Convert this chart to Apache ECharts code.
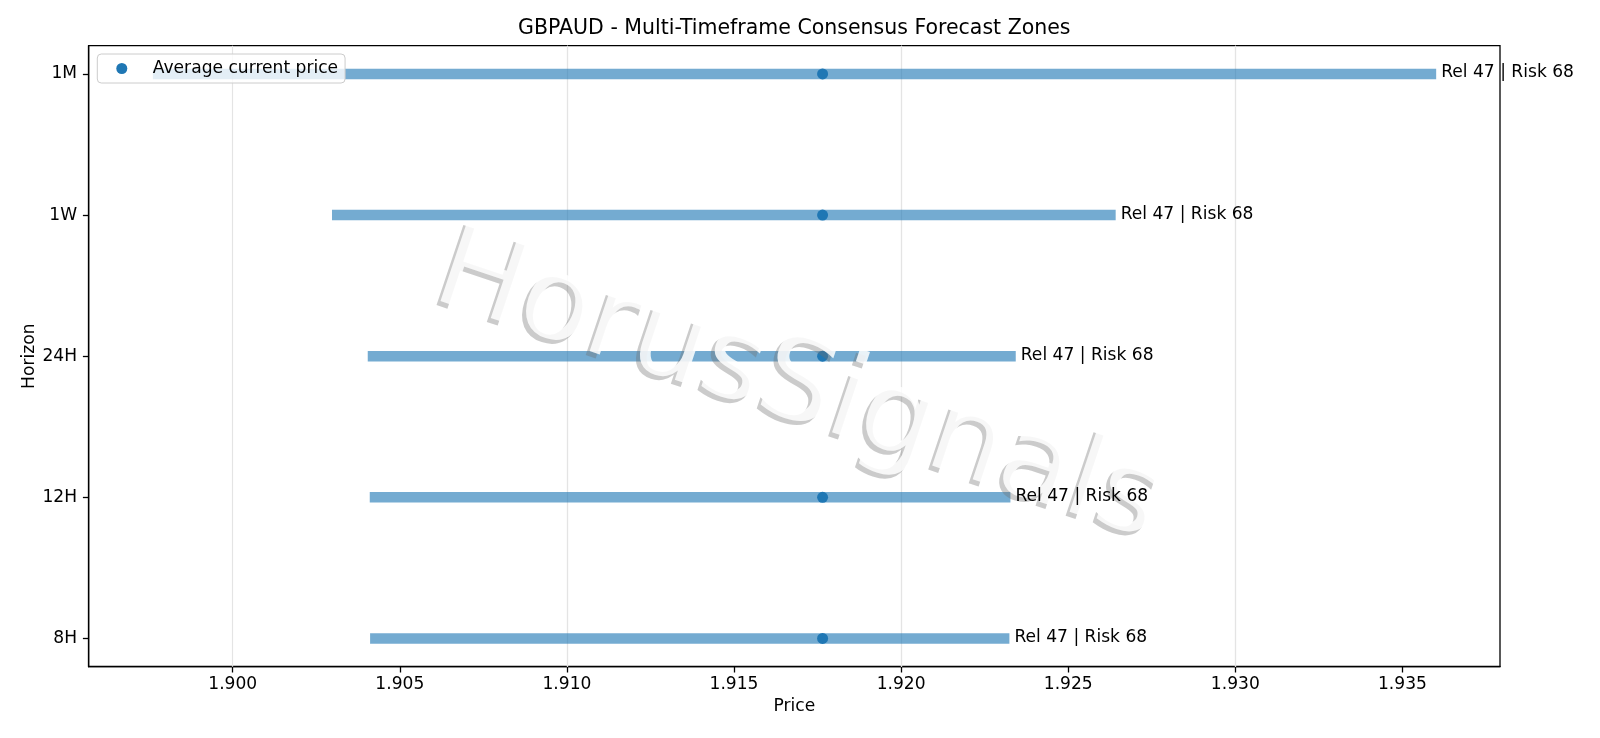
<!DOCTYPE html>
<html>
<head>
<meta charset="utf-8">
<script src="https://cdn.jsdelivr.net/npm/echarts@6/dist/echarts.min.js"></script>
<style>
html,body{margin:0;padding:0;background:#fff;}
#chart{width:1600px;height:738px;}
</style>
</head>
<body>
<div id="chart"></div>
<script>
// ---- data ----
const horizons = ['1M', '1W', '24H', '12H', '8H'];
const zoneLow  = [1.89761, 1.90297, 1.90404, 1.90410, 1.90411];
const zoneHigh = [1.93601, 1.92642, 1.92343, 1.92327, 1.92324];
const avgPrice = [1.91765, 1.91765, 1.91765, 1.91765, 1.91765];
const relScore = [47, 47, 47, 47, 47];
const riskScore = [68, 68, 68, 68, 68];
const xTicks = [1.900, 1.905, 1.910, 1.915, 1.920, 1.925, 1.930, 1.935];
const yTicks = [0, 1, 2, 3, 4];
const titleText = 'GBPAUD - Multi-Timeframe Consensus Forecast Zones';
const watermarkText = 'HorusSignals';

const FONT = 'DejaVu Sans';
const FS = 17.1;

const chart = echarts.init(document.getElementById('chart'), null, {renderer: 'canvas'});

const barData = zoneLow.map((lo, i) => [lo, zoneHigh[i], i]);
const dotData = avgPrice.map((p, i) => [p, i]);
const labelData = zoneHigh.map((h, i) => [h, i]);

const rot = -18.5 * Math.PI / 180;

const option = {
  backgroundColor: '#ffffff',
  animation: false,
  textStyle: {fontFamily: FONT},
  grid: {
    left: 88.7, right: 100, top: 45.7, bottom: 71.3,
    containLabel: false, outerBoundsMode: 'none',
    show: true, borderColor: '#000', borderWidth: 1.3, backgroundColor: 'transparent'
  },
  legend: {
    show: true,
    data: [{name: 'Average current price', icon: 'circle'}],
    left: 97.3, top: 54,
    orient: 'vertical',
    itemWidth: 24, itemHeight: 11,
    padding: [6, 7, 6, 19],
    backgroundColor: 'rgba(255,255,255,0.8)',
    borderColor: '#cccccc', borderWidth: 1, borderRadius: 4,
    textStyle: {fontFamily: FONT, fontSize: FS, color: '#000', padding: [0, 0, 0, 14]},
    z: 20
  },
  xAxis: {
    type: 'value',
    min: 1.89569, max: 1.93792,
    name: 'Price', nameLocation: 'middle', nameGap: 31, nameMoveOverlap: false,
    nameTextStyle: {fontFamily: FONT, fontSize: FS, color: '#000'},
    axisLine: {show: true, onZero: false, lineStyle: {color: '#000', width: 1.3}},
    axisTick: {show: true, customValues: xTicks, length: 5.8, lineStyle: {color: '#000', width: 1.3}},
    axisLabel: {show: true, customValues: xTicks, margin: 9, fontFamily: FONT, fontSize: FS, color: '#000',
      formatter: v => Number(v).toFixed(3)},
    splitLine: {show: false}
  },
  yAxis: {
    type: 'value',
    inverse: true,
    min: -0.2, max: 4.2,
    name: 'Horizon', nameLocation: 'middle', nameGap: 51, nameMoveOverlap: false,
    nameTextStyle: {fontFamily: FONT, fontSize: FS, color: '#000'},
    axisLine: {show: true, onZero: false, lineStyle: {color: '#000', width: 1.3}},
    axisTick: {show: true, customValues: yTicks, length: 5.8, lineStyle: {color: '#000', width: 1.3}},
    axisLabel: {show: true, customValues: yTicks, margin: 11.6, fontFamily: FONT, fontSize: FS, color: '#000',
      formatter: v => horizons[Math.round(v)]},
    splitLine: {show: false}
  },
  graphic: {
    elements: [
      {
        type: 'text', x: 794.3, y: 29, z: 30, silent: true,
        style: {text: titleText, fontFamily: FONT, fontSize: 20.5, fill: '#000', align: 'center', verticalAlign: 'middle'}
      },
      {
        type: 'text', x: 794, y: 393, rotation: rot, z: 4, silent: true,
        style: {text: watermarkText, fontFamily: FONT, fontSize: 116, fill: 'rgba(110,110,110,0.36)', align: 'center', verticalAlign: 'middle'}
      },
      {
        type: 'text', x: 798, y: 389, rotation: rot, z: 5, silent: true,
        style: {text: watermarkText, fontFamily: FONT, fontSize: 116, fill: 'rgba(255,255,255,0.85)', align: 'center', verticalAlign: 'middle'}
      }
    ]
  },
  series: [
    {
      name: 'grid-lines',
      type: 'line',
      data: [],
      silent: true,
      z: 1,
      markLine: {
        silent: true, symbol: 'none', z: 1, animation: false,
        label: {show: false},
        lineStyle: {color: '#e4e4e4', width: 1.2, type: 'solid'},
        data: xTicks.map(v => ({xAxis: v}))
      }
    },
    {
      name: 'zones',
      type: 'custom',
      z: 2,
      silent: true,
      data: barData,
      encode: {x: [0, 1], y: 2},
      renderItem: function (params, api) {
        const p0 = api.coord([api.value(0), api.value(2)]);
        const p1 = api.coord([api.value(1), api.value(2)]);
        return {
          type: 'line',
          shape: {x1: p0[0], y1: p0[1], x2: p1[0], y2: p1[1]},
          style: {stroke: 'rgba(31,119,180,0.62)', lineWidth: 10.5, lineCap: 'butt'}
        };
      }
    },
    {
      name: 'Average current price',
      type: 'scatter',
      z: 3,
      data: dotData,
      symbol: 'circle',
      symbolSize: 11,
      itemStyle: {color: '#1f77b4', opacity: 1},
      silent: true
    },
    {
      name: 'labels',
      type: 'custom',
      z: 10,
      silent: true,
      clip: false,
      data: labelData,
      encode: {x: 0, y: 1},
      renderItem: function (params, api) {
        const p = api.coord([api.value(0), api.value(1)]);
        const i = params.dataIndex;
        return {
          type: 'text',
          x: p[0] + 5, y: p[1] - 1,
          style: {
            text: 'Rel ' + relScore[i] + ' | Risk ' + riskScore[i],
            fontFamily: FONT, fontSize: FS, fill: '#000',
            align: 'left', verticalAlign: 'middle'
          }
        };
      }
    }
  ]
};

chart.setOption(option);
</script>
</body>
</html>
